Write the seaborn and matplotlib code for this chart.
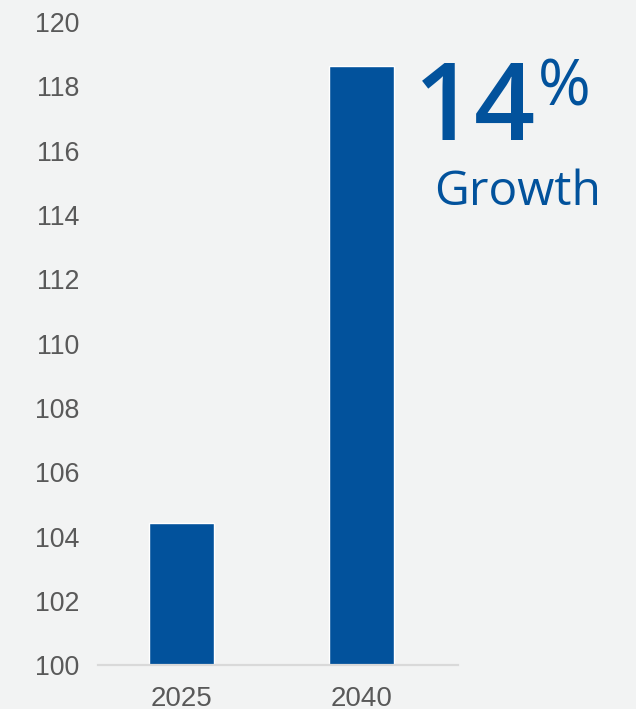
import matplotlib
matplotlib.use("Agg")
import matplotlib.pyplot as plt
import seaborn as sns
import pandas as pd

years = ["2025", "2040"]
values = [104.43, 118.64]
y_ticks = [100, 102, 104, 106, 108, 110, 112, 114, 116, 118, 120]
headline = "14"
headline_sup = "%"
subline = "Growth"

BG = "#f2f3f3"
BAR = "#02529c"
TXT = "#595959"

sns.set_theme(style="white")
plt.rcParams["font.family"] = ["Liberation Sans", "DejaVu Sans"]

df = pd.DataFrame({"year": years, "value": values})

fig = plt.figure(figsize=(6.36, 7.09), dpi=100, facecolor=BG)
ax = fig.add_axes([0.1546, 0.0614, 0.5651, 0.9076])
ax.set_facecolor(BG)

sns.barplot(data=df, x="year", y="value", color=BAR, width=0.36,
            saturation=1, ax=ax, bottom=0)

ax.set_ylim(100, 120)
ax.set_xlim(-0.462, 1.534)
ax.set_yticks(y_ticks)
ax.set_yticklabels([str(t) for t in y_ticks])
ax.set_xlabel("")
ax.set_ylabel("")
ax.tick_params(axis="y", length=0, labelsize=19.3, labelcolor=TXT, pad=13.5)
ax.tick_params(axis="x", length=0, labelsize=20, labelcolor=TXT, pad=14.5)
for s in ["top", "right", "left"]:
    ax.spines[s].set_visible(False)
ax.spines["bottom"].set_color("#d9d9d9")
ax.spines["bottom"].set_linewidth(1.6)
ax.grid(False)

big_font = ["Open Sans", "DejaVu Sans"]
fig.text(536 / 636, 1 - 140 / 709, headline, ha="right", va="baseline",
         fontsize=77, color=BAR, family=big_font, fontweight="semibold")
fig.text(538 / 636, 1 - 105 / 709, headline_sup, ha="left", va="baseline",
         fontsize=46, color=BAR, family=big_font, fontweight="medium")
fig.text(517.5 / 636, 1 - 205 / 709, subline, ha="center", va="baseline",
         fontsize=34.5, color=BAR, family=big_font, fontweight="medium")

fig.savefig("out.png", dpi=100, facecolor=BG)
